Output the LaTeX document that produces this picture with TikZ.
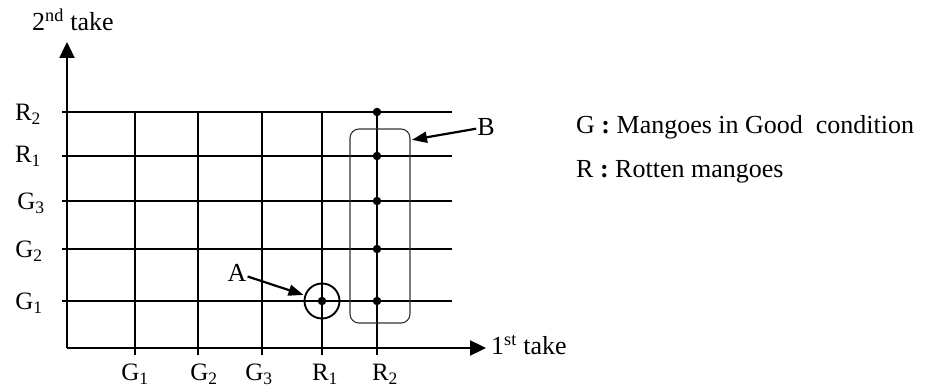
\documentclass[tikz,border=0pt]{standalone}
\usepackage{fontspec}
\setmainfont{Liberation Serif}
\usetikzlibrary{arrows.meta, calc}
\tikzset{
	tri/.tip={Triangle[length=16pt, width=15pt]},
	ptr/.tip={Triangle[length=15pt, width=11pt]},
	grid line/.style={line width=1.8pt},
	axis/.style={line width=2.4pt, -tri},
	pointer/.style={line width=2.2pt, -ptr, shorten >=1pt},
	dot/.style={circle, fill=black, inner sep=0pt, minimum size=8.5pt},
	lbl/.style={font=\fontsize{26}{30}\selectfont, inner sep=1pt},
	tick lbl/.style={font=\fontsize{25}{29}\selectfont, inner sep=1pt}
}
\newcommand{\sub}[2]{#1\textsubscript{#2}}

\begin{document}
\begin{tikzpicture}[x=1pt, y=-1pt]
	\useasboundingbox (0,0) rectangle (932,387);
	
	% Axes
	\coordinate (O) at (67,348);
	\coordinate (xend) at (486,348);
	\coordinate (yend) at (67,42);
	\draw[axis] (O) -- (xend);
	\draw[axis] (O) -- (yend);
	\node[lbl, anchor=west] (xlabel) at (490,345) {1\textsuperscript{st} take};
	\node[lbl] (ylabel) at (73,20) {2\textsuperscript{nd} take};
	
	% Grid: rows (2nd take) and columns (1st take)
	\foreach \y/\name/\lx/\ly in {112/\sub{R}{2}/28/114, 156/\sub{R}{1}/28/156, 201/\sub{G}{3}/31/203, 249/\sub{G}{2}/29/251, 301/\sub{G}{1}/29/303}{
		\draw[grid line] (62,\y) -- (452,\y);
		\node[tick lbl] at (\lx,\ly) {\name};
	}
	\foreach \x/\name/\lx in {135/\sub{G}{1}/135, 198/\sub{G}{2}/204, 262/\sub{G}{3}/259, 322/\sub{R}{1}/325, 377/\sub{R}{2}/385}{
		\draw[grid line] (\x,112) -- (\x,355);
		\node[tick lbl] at (\lx,374) {\name};
	}
	
	% Outcomes
	\foreach \y in {112, 156, 201, 249, 301}{\node[dot] at (377,\y) {};}
	\node[dot] (ptA) at (322,301) {};
	\node[circle, draw, line width=1.9pt, minimum size=35pt, inner sep=0pt] (selA) at (322,301) {};
	\node[draw, line width=1.1pt, draw=black!80, rounded corners=9pt,
		minimum width=60pt, minimum height=194pt, inner sep=0pt] (selB) at (380,226) {};
	
	% Pointers
	\node[lbl] (A) at (237,273) {A};
	\node[lbl] (B) at (486,127) {B};
	\coordinate (Bend) at (411,140);
	\draw[pointer] (A) -- (selA);
	\draw[pointer] (B) -- (Bend);
	
	% Legend
	\node[lbl, anchor=west] (legG) at (575,127) {G \textbf{:} Mangoes in Good~ condition};
	\node[lbl, anchor=west] (legR) at (575,172) {R \textbf{:} Rotten mangoes};
\end{tikzpicture}
\end{document}
